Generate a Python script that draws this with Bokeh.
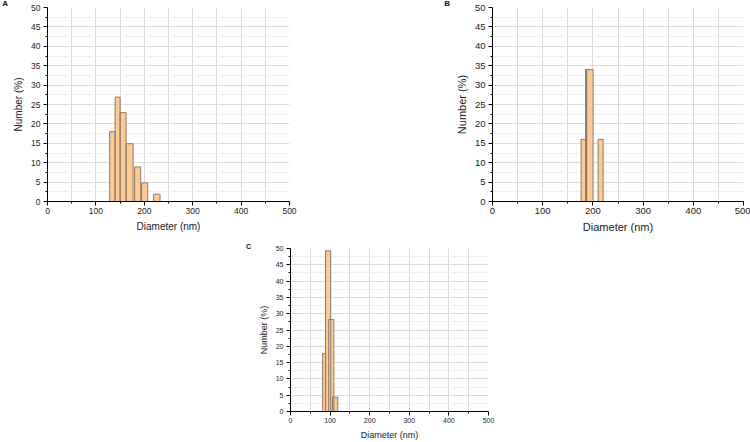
from bokeh.plotting import figure
from bokeh.layouts import row, column
from bokeh.models import Range1d, FixedTicker, Div
from bokeh.embed import file_html
from bokeh.resources import INLINE

# ---- data (diameter bins in nm, number %) ----
a_left = [128.5, 139.7, 150.0, 162.4, 180.1, 194.6, 219.3]
a_right = [139.7, 150.0, 162.4, 176.8, 192.5, 207.0, 232.5]
a_number = [18.0, 26.9, 22.9, 14.9, 8.9, 4.8, 1.9]

b_left = [176.5, 185.3, 187.5, 210.4]
b_right = [185.3, 187.5, 200.4, 220.3]
b_number = [16.0, 34.0, 34.0, 16.0]

c_left = [81.2, 88.5, 96.5, 106.0]
c_right = [88.5, 101.5, 109.5, 119.3]
c_number = [17.8, 49.3, 28.2, 4.4]

x_ticks = [0, 100, 200, 300, 400, 500]
x_minor = [50, 150, 250, 350, 450]
y_ticks = [0, 5, 10, 15, 20, 25, 30, 35, 40, 45, 50]
y_minor = [2.5, 7.5, 12.5, 17.5, 22.5, 27.5, 32.5, 37.5, 42.5, 47.5]

x_label = "Diameter (nm)"
y_label = "Number (%)"
panel_letters = ["A", "B", "C"]

FONT = "Liberation Sans"
FILL = "#FDC995"
EDGE = "#8c7b6b"


def panel(left, right, top, width, height, borders, tick_size, label_size):
    bl, br, bt, bb = borders
    p = figure(width=width, height=height, output_backend="svg",
               toolbar_location=None, x_range=Range1d(0, 500),
               y_range=Range1d(0, 50), min_border_left=bl,
               min_border_right=br, min_border_top=bt, min_border_bottom=bb)
    p.outline_line_color = None
    p.background_fill_color = "white"
    p.border_fill_color = "white"

    p.xaxis.ticker = FixedTicker(ticks=x_ticks, minor_ticks=x_minor)
    p.yaxis.ticker = FixedTicker(ticks=y_ticks, minor_ticks=y_minor)
    for ax in (p.xaxis[0], p.yaxis[0]):
        ax.axis_line_color = "black"
        ax.axis_line_width = 1
        ax.major_tick_line_color = "black"
        ax.minor_tick_line_color = "black"
        ax.major_tick_in = 0
        ax.major_tick_out = 4
        ax.minor_tick_in = 0
        ax.minor_tick_out = 2
        ax.major_label_text_font = FONT
        ax.major_label_text_font_size = tick_size
        ax.major_label_text_color = "#222222"
        ax.axis_label_text_font = FONT
        ax.axis_label_text_font_size = label_size
        ax.axis_label_text_font_style = "normal"
        ax.axis_label_text_color = "#222222"
    p.xaxis.axis_label = x_label
    p.yaxis.axis_label = y_label
    p.xaxis.major_label_standoff = 2
    p.yaxis.major_label_standoff = 3
    p.xaxis.axis_label_standoff = 4
    p.yaxis.axis_label_standoff = 4

    p.xgrid.ticker = FixedTicker(ticks=x_ticks, minor_ticks=x_minor)
    p.ygrid.ticker = FixedTicker(ticks=y_ticks, minor_ticks=y_minor)
    p.xgrid.grid_line_color = "#d9d9d9"
    p.xgrid.minor_grid_line_color = "#d9d9d9"
    p.ygrid.grid_line_color = "#dcdcdc"
    p.ygrid.minor_grid_line_color = "#efefef"

    # fills first, then outlines, so every bar edge stays visible
    p.quad(left=left, right=right, top=top, bottom=0, fill_color=FILL,
           line_color=None)
    p.quad(left=left, right=right, top=top, bottom=0, fill_color=None,
           line_color=EDGE, line_width=1)
    return p


def letter_div(text, width, height, size, pad_right, pad_top):
    return Div(text=text, width=width, height=height, margin=0,
               styles={"font-family": FONT, "font-size": size,
                       "font-weight": "bold", "color": "#111111",
                       "text-align": "right", "line-height": size,
                       "padding-right": pad_right, "padding-top": pad_top,
                       "box-sizing": "border-box"})


pa = panel(a_left, a_right, a_number, 290, 242, (36, 11, 6, 41),
           "8.5px", "10px")
pb = panel(b_left, b_right, b_number, 300, 242, (42, 7, 7, 34),
           "9.5px", "11px")
pc = panel(c_left, c_right, c_number, 256, 200, (38, 20, 6, 28),
           "7px", "9px")

layout = column(
    row(letter_div(panel_letters[0], 10, 242, "8px", "2px", "0px"), pa,
        letter_div(panel_letters[1], 150, 242, "8px", "0px", "0px"), pb),
    row(letter_div(panel_letters[2], 252, 200, "7px", "1px", "1px"), pc),
)

open("out.html", "w").write(file_html(layout, INLINE))
